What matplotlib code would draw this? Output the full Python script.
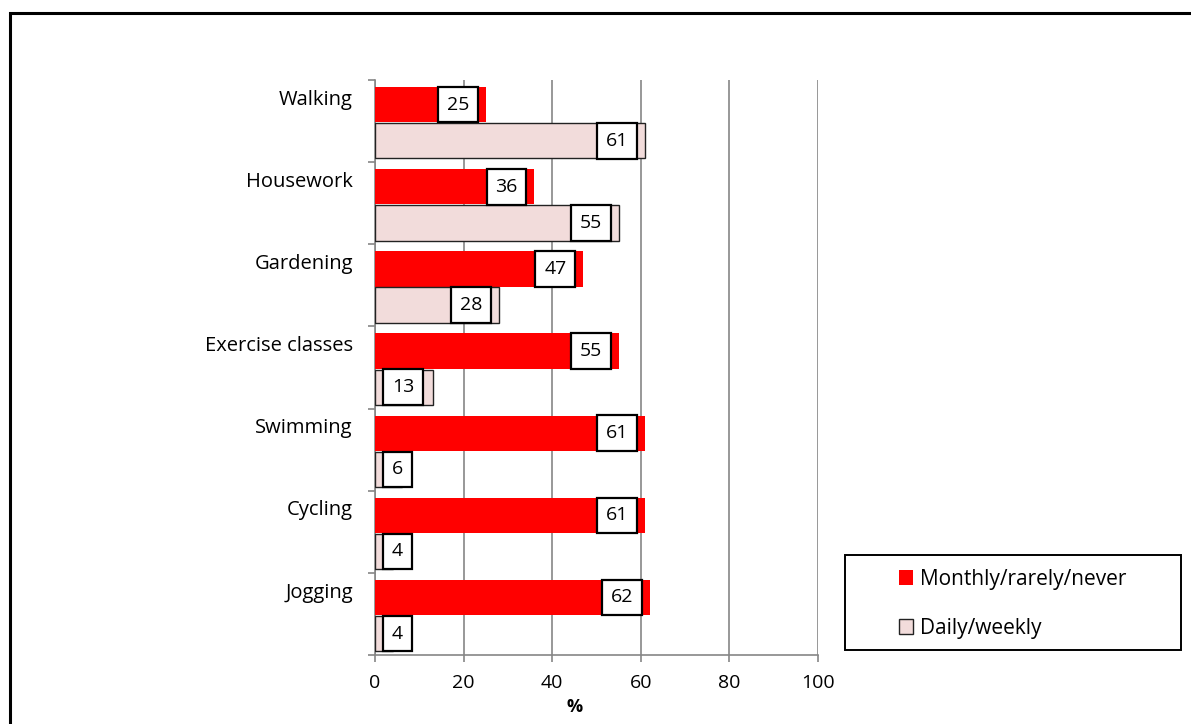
import matplotlib
matplotlib.use("Agg")
import matplotlib.pyplot as plt
import matplotlib.patches as patches
import numpy as np

plt.rcParams['font.family'] = ['Open Sans', 'DejaVu Sans']

categories = ["Walking", "Housework", "Gardening", "Exercise classes",
              "Swimming", "Cycling", "Jogging"]
monthly = [25, 36, 47, 55, 61, 61, 62]
daily = [61, 55, 28, 13, 6, 4, 4]
series_names = ["Monthly/rarely/never", "Daily/weekly"]
x_ticks = [0, 20, 40, 60, 80, 100]

RED = "#ff0000"
PINK = "#f2dcdb"
GRID = "#868686"

W, H = 1191, 724
fig = plt.figure(figsize=(W / 100, H / 100), dpi=100)
ax = fig.add_axes([375 / W, 1 - 655 / H, (818 - 375) / W, (655 - 80) / H])

idx = np.arange(len(categories))
bh = 0.43
ax.barh(idx + 0.30, monthly, height=bh, color=RED, edgecolor="none",
        zorder=3, label=series_names[0])
ax.barh(idx + 0.74, daily, height=bh, color=PINK, edgecolor="#222222",
        linewidth=1.0, zorder=3, label=series_names[1])

ax.set_xlim(0, 100)
ax.set_ylim(len(categories), 0)

# value labels in white boxes, pinned near the bar end (or the axis for short bars)
fs_lab = 14
pad = 0.45
pad_px = pad * fs_lab * 100 / 72
box = dict(boxstyle=f"square,pad={pad}", fc="white", ec="black", lw=1.6)
for vals, off in ((monthly, 0.30), (daily, 0.74)):
    for i, v in enumerate(vals):
        if v < 15:
            ax.annotate(str(v), xy=(0, i + off), xytext=(8 + pad_px, 0),
                        textcoords="offset pixels", ha="left", va="center",
                        fontsize=fs_lab, bbox=box, zorder=5)
        else:
            ax.annotate(str(v), xy=(v, i + off), xytext=(-8 - pad_px, 0),
                        textcoords="offset pixels", ha="right", va="center",
                        fontsize=fs_lab, bbox=box, zorder=5)

# gridlines and axes
ax.set_xticks(x_ticks)
ax.set_xticklabels([str(t) for t in x_ticks], fontsize=14)
ax.xaxis.grid(True, color=GRID, lw=1.2, zorder=0)
ax.tick_params(axis="x", direction="out", length=5, width=1.2, color=GRID, pad=9)

ax.set_yticks(idx + 0.21)
ax.set_yticklabels(categories, fontsize=14.5)
ax.set_yticks(np.arange(len(categories) + 1), minor=True)
ax.tick_params(axis="y", which="major", length=0, pad=16)
ax.tick_params(axis="y", which="minor", direction="out", length=5, width=1.2, color=GRID)

for s in ("top", "right"):
    ax.spines[s].set_visible(False)
for s in ("left", "bottom"):
    ax.spines[s].set_color(GRID)
    ax.spines[s].set_linewidth(1.2)

fig.text(575 / W, 1 - 707 / H, "%", ha="center", va="center",
         fontsize=13, fontweight="bold")

# legend panel
fig.patches.append(patches.Rectangle((845 / W, 1 - 650 / H), (1181 - 845) / W, 95 / H,
                                     transform=fig.transFigure, fill=False,
                                     ec="black", lw=1.4))
fig.legend(loc="center left", bbox_to_anchor=(880 / W, 1 - 604 / H), frameon=False,
           fontsize=15, handlelength=0.7, handleheight=0.7, handletextpad=0.3,
           labelspacing=1.35)

# outer chart border
fig.patches.append(patches.Rectangle((10 / W, -0.1), 1.2, 1.1 - 13 / H,
                                     transform=fig.transFigure, fill=False,
                                     ec="black", lw=2.2))

fig.savefig("out.png", dpi=100)
